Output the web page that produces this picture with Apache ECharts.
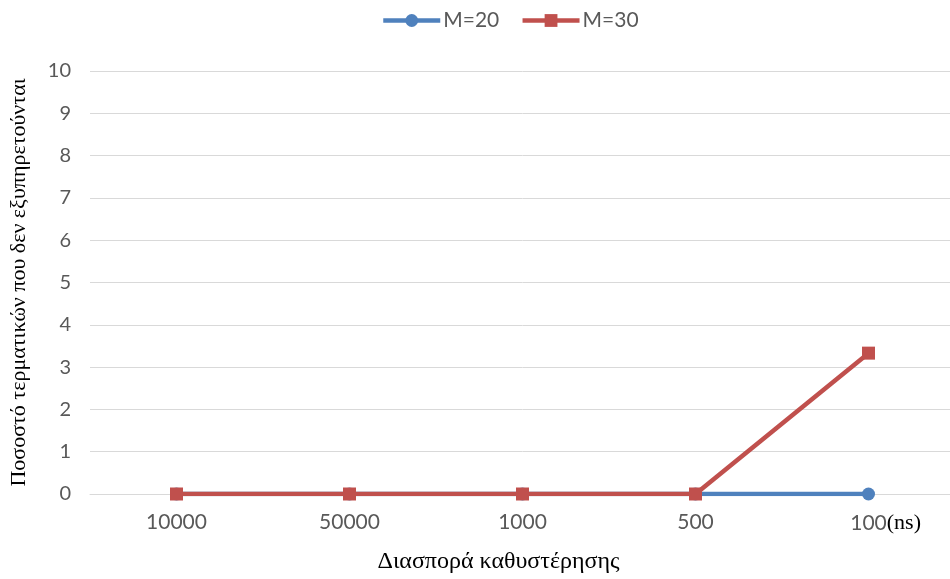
<!DOCTYPE html>
<html>
<head>
<meta charset="utf-8">
<script src="https://cdn.jsdelivr.net/npm/echarts@6/dist/echarts.min.js"></script>
<style>
  html, body { margin: 0; padding: 0; background: #fff; overflow: hidden; }
  #chart { width: 960px; height: 579px; }
</style>
</head>
<body>
<div id="chart"></div>
<script>
'use strict';

// data
var categories = ['10000', '50000', '1000', '500', '100'];
var m20 = [0, 0, 0, 0, 0];
var m30 = [0, 0, 0, 0, 3.33];
var seriesNames = ['M=20', 'M=30'];

var myChart = echarts.init(document.getElementById('chart'));

var tickFont = 'Lato, "Open Sans", sans-serif';
var serifFont = '"Liberation Serif", "DejaVu Serif", serif';

var option = {
  animation: false,
  legend: {
    top: 5,
    left: 376,
    itemWidth: 57,
    itemHeight: 16,
    itemGap: 21,
    lineStyle: { width: 4.5 },
    textStyle: { color: '#595959', fontSize: 21, fontFamily: tickFont, padding: [0, 0, 0, -2] },
    data: seriesNames
  },
  // plot runs past the right edge of the 950px window, as in the picture
  grid: { left: 89, top: 71, width: 866, height: 423 },
  xAxis: {
    type: 'category',
    data: categories,
    axisLine: { lineStyle: { color: '#d9d9d9', width: 1 } },
    axisTick: { show: false },
    axisLabel: {
      interval: 0,
      margin: 18,
      color: '#595959',
      fontSize: 21,
      fontFamily: tickFont,
      formatter: function (v, i) {
        if (i === categories.length - 1) {
          return '{p|(ns)}{a|' + v + '}{b|(ns)}';
        }
        return v;
      },
      rich: {
        a: { color: '#595959', fontSize: 21, fontFamily: tickFont },
        b: { color: '#000', fontSize: 22, fontFamily: serifFont },
        p: { color: 'rgba(0,0,0,0)', fontSize: 22, fontFamily: serifFont }
      }
    },
    name: 'Διασπορά καθυστέρησης',
    nameLocation: 'middle',
    nameGap: 56,
    nameTextStyle: { color: '#000', fontSize: 24, fontFamily: serifFont, padding: [0, 48, 0, 0] }
  },
  yAxis: {
    type: 'value',
    min: 0,
    max: 10,
    interval: 1,
    axisLine: { show: false },
    axisTick: { show: false },
    splitLine: { lineStyle: { color: '#d9d9d9', width: 1 } },
    axisLabel: { margin: 19, color: '#595959', fontSize: 20, fontFamily: tickFont },
    name: 'Ποσοστό τερματικών που δεν εξυπηρετούνται',
    nameLocation: 'middle',
    nameRotate: 90,
    nameGap: 60,
    nameTextStyle: { color: '#000', fontSize: 22, fontFamily: serifFont }
  },
  series: [
    {
      name: seriesNames[0],
      type: 'line',
      data: m20,
      symbol: 'circle',
      symbolSize: 13,
      itemStyle: { color: '#4F81BD' },
      lineStyle: { color: '#4F81BD', width: 4.5 }
    },
    {
      name: seriesNames[1],
      type: 'line',
      data: m30,
      symbol: 'rect',
      symbolSize: 13,
      itemStyle: { color: '#C0504D' },
      lineStyle: { color: '#C0504D', width: 4.5 }
    }
  ]
};

myChart.setOption(option);
</script>
</body>
</html>
